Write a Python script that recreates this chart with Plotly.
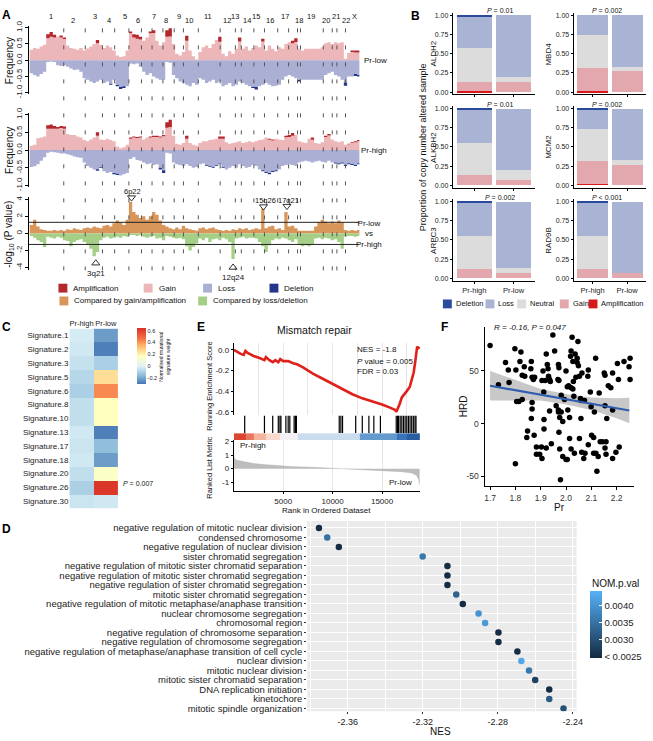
import plotly.graph_objects as go

W, H = 653, 741
FONT = "Liberation Sans, Arial, sans-serif"

# ---------------- Panel A data (genome bins, left to right) ----------------
chrom_labels = ["1", "2", "3", "4", "5", "6", "7", "8", "9", "10", "11", "12", "13", "14", "15",
                "16", "17", "18", "19", "20", "21", "22", "X"]
chrom_label_pos = [6.5, 13.2, 19.8, 24.0, 28.7, 32.7, 37.5, 41.3, 45.3, 48.3, 53.8, 59.7, 62.0,
                   65.8, 68.3, 72.6, 77.3, 81.3, 85.2, 89.5, 92.7, 95.7, 98.2]
chrom_dash_pos = [10.3, 16.8, 22.0, 25.7, 30.0, 33.8, 37.0, 40.3, 43.7, 46.5, 51.0, 57.6, 62.2,
                  64.0, 67.8, 71.0, 75.0, 78.3, 81.0, 81.9, 88.8, 91.5, 92.9, 95.5]

low_gain = [0.32, 0.38, 0.35, 0.42, 0.48, 0.68, 0.72, 0.70, 0.72, 0.70,
            0.65, 0.45, 0.38, 0.35, 0.32, 0.38, 0.30, 0.36, 0.42, 0.50,
            0.52, 0.48, 0.38, 0.45, 0.40, 0.30, 0.15, 0.10, 0.12, 0.30,
            0.83, 0.70, 0.66, 0.64, 0.60, 0.70, 0.83, 0.84, 0.60, 0.45,
            0.55, 0.72, 0.73, 0.50, 0.20, 0.15, 0.25, 0.60, 0.30, 0.12,
            0.02, 0.25, 0.40, 0.45, 0.38, 0.50, 0.62, 0.57, 0.20, 0.12,
            0.28, 0.20, 0.35, 0.58, 0.35, 0.42, 0.30, 0.38, 0.45, 0.40,
            0.58, 0.30, 0.45, 0.35, 0.28, 0.40, 0.35, 0.50, 0.55, 0.52,
            0.56, 0.35, 0.30, 0.35, 0.35, 0.35, 0.35, 0.35, 0.40, 0.52,
            0.55, 0.50, 0.55, 0.52, 0.55, 0.05, 0.22, 0.25, 0.24, 0.24]
low_amp = [0, 0, 0, 0, 0, 0.12, 0.15, 0.08, 0, 0.06,
           0.05, 0, 0, 0, 0, 0, 0, 0, 0, 0,
           0.10, 0, 0, 0, 0, 0, 0, 0, 0, 0,
           0.05, 0.10, 0.12, 0.08, 0, 0, 0.05, 0.08, 0, 0,
           0, 0.20, 0.25, 0, 0, 0, 0, 0.15, 0, 0,
           0, 0, 0, 0, 0, 0, 0, 0.15, 0, 0,
           0, 0, 0, 0.12, 0, 0, 0, 0, 0, 0,
           0.08, 0, 0, 0, 0, 0, 0, 0, 0, 0.08,
           0.12, 0, 0, 0, 0, 0, 0, 0, 0, 0,
           0, 0, 0, 0, 0, 0, 0, 0.05, 0.06, 0.06]
low_loss = [-0.40, -0.45, -0.50, -0.42, -0.35, -0.05, -0.04, -0.05, -0.15, -0.18,
            -0.15, -0.20, -0.25, -0.30, -0.28, -0.35, -0.55, -0.60, -0.65, -0.70,
            -0.65, -0.60, -0.70, -0.65, -0.72, -0.60, -0.76, -0.82, -0.80, -0.80,
            -0.10, -0.12, -0.10, -0.20, -0.35, -0.45, -0.40, -0.50, -0.55, -0.60,
            -0.60, -0.05, -0.08, -0.45, -0.55, -0.65, -0.70, -0.75, -0.80, -0.70,
            -0.75, -0.55, -0.60, -0.70, -0.65, -0.60, -0.70, -0.65, -0.80, -0.75,
            -0.70, -0.80, -0.75, -0.65, -0.70, -0.75, -0.80, -0.81, -0.82, -0.80,
            -0.75, -0.70, -0.75, -0.80, -0.78, -0.75, -0.60, -0.50, -0.45, -0.50,
            -0.55, -0.61, -0.60, -0.60, -0.60, -0.60, -0.60, -0.60, -0.60, -0.45,
            -0.40, -0.35, -0.45, -0.50, -0.60, -0.68, -0.50, -0.50, -0.42, -0.45]
low_del = [0, 0, 0, 0, 0, 0, 0, 0, 0, 0,
           0, 0, 0, 0, 0, 0, 0, 0, 0, 0,
           0, 0, 0, 0, -0.03, 0, -0.04, -0.06, -0.05, 0,
           0, 0, 0, 0, 0, 0, 0, 0, 0, 0,
           0, 0, 0, 0, 0, 0, 0, 0, 0, 0,
           0, 0, 0, 0, 0, 0, 0, 0, 0, 0,
           0, 0, 0, 0, 0, 0, 0, -0.04, -0.08, 0,
           0, 0, 0, 0, 0, 0, 0, 0, 0, 0,
           0, -0.04, 0, 0, 0, 0, 0, 0, 0, 0,
           0, 0, 0, 0, 0, -0.10, 0, 0, -0.06, -0.05]

high_gain = [0.12, 0.15, 0.33, 0.35, 0.38, 0.60, 0.60, 0.60, 0.60, 0.62,
             0.60, 0.45, 0.42, 0.42, 0.38, 0.35, 0.28, 0.25, 0.30, 0.35,
             0.40, 0.30, 0.28, 0.32, 0.28, 0.25, 0.10, 0.05, 0.08, 0.15,
             0.32, 0.35, 0.34, 0.35, 0.30, 0.35, 0.35, 0.37, 0.37, 0.35,
             0.39, 0.63, 0.65, 0.40, 0.18, 0.15, 0.20, 0.32, 0.20, 0.15,
             0.12, 0.20, 0.25, 0.25, 0.28, 0.30, 0.32, 0.32, 0.32, 0.22,
             0.18, 0.20, 0.22, 0.25, 0.20, 0.22, 0.25, 0.22, 0.25, 0.28,
             0.30, 0.35, 0.29, 0.27, 0.32, 0.30, 0.28, 0.36, 0.37, 0.40,
             0.42, 0.25, 0.22, 0.20, 0.32, 0.29, 0.20, 0.18, 0.22, 0.37,
             0.41, 0.30, 0.25, 0.22, 0.25, 0.15, 0.16, 0.20, 0.22, 0.25]
high_amp = [0, 0, 0, 0, 0, 0.10, 0.12, 0.08, 0.05, 0.06,
            0.06, 0, 0, 0, 0, 0, 0, 0, 0, 0,
            0.10, 0, 0, 0, 0, 0, 0, 0, 0, 0,
            0.03, 0.03, 0.03, 0.03, 0, 0, 0.03, 0.03, 0.03, 0.03,
            0.03, 0.15, 0.20, 0, 0, 0, 0, 0.08, 0, 0,
            0, 0, 0, 0, 0, 0, 0, 0.06, 0.06, 0,
            0, 0, 0, 0, 0, 0, 0, 0, 0, 0,
            0, 0, 0.03, 0.03, 0, 0, 0, 0.04, 0.05, 0.08,
            0, 0, 0, 0, 0, 0.06, 0, 0, 0, 0.03,
            0.04, 0, 0, 0, 0, 0, 0.02, 0.02, 0.03, 0.03]
high_loss = [-0.48, -0.46, -0.40, -0.30, -0.20, -0.08, -0.05, -0.06, -0.08, -0.10,
             -0.10, -0.12, -0.15, -0.18, -0.20, -0.22, -0.35, -0.45, -0.50, -0.55,
             -0.54, -0.48, -0.60, -0.65, -0.62, -0.65, -0.67, -0.72, -0.68, -0.65,
             -0.25, -0.20, -0.28, -0.30, -0.35, -0.40, -0.38, -0.42, -0.40, -0.50,
             -0.57, -0.08, -0.10, -0.35, -0.40, -0.42, -0.45, -0.40, -0.45, -0.50,
             -0.48, -0.40, -0.38, -0.43, -0.46, -0.48, -0.43, -0.38, -0.48, -0.55,
             -0.50, -0.45, -0.50, -0.40, -0.45, -0.50, -0.48, -0.42, -0.45, -0.55,
             -0.57, -0.62, -0.65, -0.59, -0.57, -0.55, -0.45, -0.42, -0.40, -0.42,
             -0.45, -0.35, -0.32, -0.30, -0.32, -0.35, -0.32, -0.30, -0.33, -0.35,
             -0.30, -0.35, -0.35, -0.37, -0.35, -0.42, -0.37, -0.39, -0.42, -0.37]
high_del = [0, 0, 0, 0, 0, 0, 0, 0, 0, 0,
            0, 0, 0, 0, 0, 0, 0, 0, 0, 0,
            -0.04, -0.02, 0, 0, 0, -0.03, -0.03, 0, 0, 0,
            0, 0, 0, 0, 0, 0, 0, 0, 0, -0.05,
            -0.08, 0, 0, 0, 0, 0, 0, 0, 0, 0,
            0, 0, 0, -0.02, -0.02, -0.02, -0.02, -0.02, -0.02, 0,
            0, 0, 0, 0, 0, 0, 0, 0, 0, 0,
            -0.03, -0.03, -0.03, -0.03, -0.03, 0, 0, 0, 0, 0,
            0, 0, 0, 0, 0, 0, 0, 0, 0, 0,
            0, 0, -0.03, -0.03, -0.03, -0.03, -0.03, -0.03, -0.03, -0.03]

p_gain = [1.0, 1.6, 0.8, 0.5, 0.4, 0.3, 0.3, 0.4, 0.3, 0.4,
          0.3, 0.5, 0.4, 0.6, 0.5, 0.4, 0.6, 0.7, 0.6, 0.8,
          0.7, 0.6, 0.9, 1.0, 0.8, 1.2, 1.5, 1.3, 1.0, 1.6,
          3.7, 2.5, 2.2, 1.8, 2.0, 1.6, 2.0, 2.5, 2.2, 1.5,
          1.0, 0.8, 0.6, 0.5, 0.7, 0.5, 0.9, 0.6, 0.5, 0.4,
          0.3, 0.6, 0.7, 0.5, 0.6, 0.7, 0.5, 0.4, 0.3, 0.4,
          0.3, 0.5, 0.4, 0.6, 0.5, 0.6, 0.4, 0.5, 0.6, 0.5,
          2.9, 0.6, 0.8, 0.9, 0.5, 0.6, 0.4, 2.5, 0.8, 0.9,
          0.6, 0.3, 0.3, 0.3, 0.3, 0.3, 0.8, 1.3, 1.6, 1.4,
          1.2, 1.4, 1.2, 1.5, 1.3, 0.4, 0.3, 0.4, 0.3, 0.4]
p_loss = [-0.3, -0.5, -0.8, -1.0, -1.6, -0.4, -0.5, -0.6, -0.4, -0.5,
          -0.8, -0.9, -1.5, -1.0, -0.8, -0.7, -1.0, -1.3, -1.8, -2.7,
          -2.2, -0.8, -0.5, -0.4, -0.6, -0.5, -0.4, -0.5, -0.3, -0.4,
          -0.2, -0.2, -0.3, -0.2, -0.4, -0.5, -0.4, -0.3, -0.6, -0.5,
          -0.8, -0.3, -0.4, -0.5, -0.6, -0.5, -0.7, -1.5, -2.0, -1.6,
          -1.2, -0.6, -0.8, -0.5, -1.0, -0.7, -0.6, -0.8, -0.5, -0.7,
          -1.0, -3.0, -0.6, -0.5, -0.4, -0.6, -0.5, -0.5, -0.6, -1.0,
          -1.5, -2.2, -1.4, -0.8, -0.6, -0.7, -0.5, -0.6, -0.8, -1.0,
          -0.7, -1.3, -1.5, -1.4, -1.5, -1.3, -0.6, -0.5, -0.7, -0.5,
          -0.6, -0.8, -0.7, -1.0, -1.8, -0.4, -0.3, -0.3, -0.4, -0.3]
p_threshold = 1.3
peak_names = ["6p22", "15q26", "17q21"]
peak_pos = [30.8, 70.7, 77.8]
peak_val = [4.2, 3.15, 3.2]
trough_names = ["3q21", "12q24"]
trough_pos = [20.0, 61.5]
trough_val = [-3.5, -4.0]

# ---------------- Panel B data ----------------
genes = ["ALDH2", "MBD4", "ALKBH2", "MCM2", "ARPC3", "RAD9B"]
gene_p = ["<i>P</i> = 0.01", "<i>P</i> = 0.002", "<i>P</i> = 0.01", "<i>P</i> = 0.002",
          "<i>P</i> = 0.002", "<i>P</i> < 0.001"]
groups_b = ["Pr-high", "Pr-low"]
amp_high = [0.015, 0.015, 0.0, 0.015, 0.0, 0.0]
gain_high = [0.115, 0.295, 0.13, 0.295, 0.12, 0.12]
neutral_high = [0.44, 0.43, 0.42, 0.43, 0.43, 0.43]
loss_high = [0.415, 0.26, 0.435, 0.24, 0.435, 0.435]
del_high = [0.015, 0.0, 0.015, 0.02, 0.015, 0.015]
amp_low = [0.0, 0.0, 0.0, 0.0, 0.0, 0.0]
gain_low = [0.13, 0.27, 0.07, 0.26, 0.07, 0.07]
neutral_low = [0.06, 0.06, 0.13, 0.07, 0.06, 0.0]
loss_low = [0.81, 0.67, 0.80, 0.67, 0.87, 0.93]
del_low = [0.0, 0.0, 0.0, 0.0, 0.0, 0.0]

# ---------------- Panel C data ----------------
signatures = ["Signature.1", "Signature.2", "Signature.3", "Signature.5", "Signature.6",
              "Signature.8", "Signature.10", "Signature.13", "Signature.17", "Signature.18",
              "Signature.20", "Signature.26", "Signature.30"]
sig_groups = ["Pr-high", "Pr-low"]
sig_high = [-0.02, -0.03, -0.05, -0.08, -0.10, -0.06, -0.06, -0.03, -0.04, -0.03, -0.06, -0.10, -0.04]
sig_low = [-0.22, -0.28, -0.10, 0.25, 0.42, 0.17, 0.17, -0.28, -0.15, -0.22, 0.15, 0.62, -0.03]

# ---------------- Panel E data ----------------
es_rank = [0, 300, 700, 1000, 1170, 1400, 2000, 2600, 3100, 3250, 3600, 3950, 4200, 4500, 4700,
           5000, 5500, 6000, 6400, 7000, 8000, 9000, 10000, 11000, 12000, 13000, 13700, 14200,
           15000, 15800, 16300, 16450, 16600, 16800, 17000, 17200, 17500, 17800, 18000, 18200,
           18350, 18450, 18550, 18800]
es_value = [0.0, -0.02, -0.04, -0.05, -0.01, -0.03, -0.06, -0.08, -0.10, -0.07, -0.10, -0.12,
            -0.10, -0.12, -0.09, -0.11, -0.11, -0.13, -0.14, -0.17, -0.23, -0.28, -0.33, -0.38,
            -0.43, -0.47, -0.49, -0.50, -0.53, -0.56, -0.58, -0.60, -0.57, -0.52, -0.46, -0.44,
            -0.40, -0.36, -0.30, -0.22, -0.12, -0.02, 0.03, 0.01]
hit_ranks = [1100, 3100, 3933, 4500, 4667, 4767, 5267, 5500, 5667, 6100, 6233, 6333, 10667, 10833,
             11000, 12333, 13000, 13667, 14167, 14833, 16433, 16567, 16667, 16833, 17000, 17167,
             17333, 17500, 17667, 17833, 18000, 18167, 18333, 18433]
band_edges = [0, 1170, 2000, 3200, 4700, 6500, 12700, 16500, 17500, 18800]
band_metric = [0.95, 0.7, 0.4, 0.2, 0.0, -0.15, -0.55, -0.75, -0.9]
metric_rank = [0, 50, 300, 1000, 2000, 3000, 4500, 6000, 8000, 10000, 12000, 14000, 16000,
               17000, 18000, 18500, 18700, 18800]
metric_value = [1.0, 0.75, 0.62, 0.5, 0.38, 0.3, 0.22, 0.15, 0.1, 0.04, -0.02, -0.08, -0.15,
                -0.22, -0.32, -0.5, -0.8, -1.2]

# ---------------- Panel F data ----------------
pr_vals = [1.70, 1.733, 1.761, 1.772, 1.775, 1.798, 1.802, 1.805, 1.814, 1.818, 1.822, 1.827,
           1.827, 1.837, 1.835, 1.80, 1.848, 1.845, 1.863, 1.861, 1.866, 1.871, 1.876, 1.866,
           1.866, 1.863, 1.874, 1.883, 1.883, 1.896, 1.903, 1.905, 1.909, 1.905, 1.912, 1.913,
           1.913, 1.918, 1.922, 1.926, 1.929, 1.931, 1.935, 1.935, 1.938, 1.942, 1.922, 1.948,
           1.955, 1.961, 1.968, 1.97, 1.972, 1.972, 1.97, 1.97, 1.975, 1.972, 1.975, 1.978,
           1.981, 1.987, 1.994, 2.0, 2.005, 2.007, 2.0, 2.005, 2.01, 2.014, 2.014, 2.018, 2.02,
           2.02, 2.02, 2.024, 2.027, 2.027, 2.029, 2.031, 2.033, 2.036, 2.039, 2.044, 2.044,
           2.047, 2.049, 2.053, 2.053, 2.057, 2.059, 2.059, 2.063, 2.062, 2.066, 2.07, 2.073,
           2.075, 2.086, 2.088, 2.088, 2.096, 2.099, 2.101, 2.109, 2.109, 2.112, 2.117, 2.118,
           2.122, 2.127, 2.131, 2.135, 2.144, 2.151, 2.154, 2.154, 2.154, 2.158, 2.158, 2.161,
           2.167, 2.177, 2.184, 2.184, 2.184, 2.197, 2.203, 2.207, 2.21, 2.229, 2.249, 2.253,
           2.253, 1.981, 1.987]
hrd_vals = [74, 37, 58, 51, 39, 71, 51, 21, 21, 59, 68, 46,
            23, 45, 54, -38, -7, -13, 59, 52, 44, 42, 44, 20,
            14, 5, -11, -22, -29, -29, -22, -33, 50, 41, 30, 4,
            -5, 41, 66, 56, 52, 45, 42, 12, 40, -19, -23, 84,
            69, 17, 42, 56, 53, 41, 13, 11, 6, -8, -24, -53,
            27, 2, 23, 50, 35, 13, -34, -34, 36, 6, -14, 64, 69,
            34, -24, 82, 59, 33, 40, 26, -28, 66, 44, 62, 58,
            78, 55, 45, -14, 24, 22, 5, 48, -27, 22, -33, 22,
            -28, 45, 51, -20, 30, 16, -11, -13, -28, 11, 62, -28,
            -45, -31, 29, -17, -17, 48, 46, 17, -23, -17, -29, 5,
            36, 34, 13, 48, -33, -27, 57, 42, -22, 59, 54, 62,
            42, 11, -31]
fit_pr = [1.70, 1.80, 1.90, 2.00, 2.10, 2.20, 2.25]
fit_hrd = [36.0, 31.7, 27.5, 23.2, 18.9, 14.6, 12.5]
fit_lower = [22.0, 21.7, 22.0, 18.2, 12.9, 5.1, 0.5]
fit_upper = [50.0, 41.7, 33.0, 28.2, 24.9, 24.1, 24.5]

# ---------------- Panel D data ----------------
go_terms = ["negative regulation of mitotic nuclear division", "condensed chromosome",
            "negative regulation of nuclear division", "sister chromatid segregation",
            "negative regulation of mitotic sister chromatid separation",
            "negative regulation of mitotic sister chromatid segregation",
            "negative regulation of sister chromatid segregation",
            "mitotic sister chromatid segregation",
            "negative regulation of mitotic metaphase/anaphase transition",
            "nuclear chromosome segregation", "chromosomal region",
            "negative regulation of chromosome separation",
            "negative regulation of chromosome segregation",
            "negative regulation of metaphase/anaphase transition of cell cycle",
            "nuclear division", "mitotic nuclear division", "mitotic sister chromatid separation",
            "DNA replication initiation", "kinetochore", "mitotic spindle organization"]
go_nes = [-2.3753, -2.3709, -2.3647, -2.3200, -2.3068, -2.3068, -2.3068, -2.3021, -2.2986,
          -2.2902, -2.2867, -2.2796, -2.2796, -2.2695, -2.2674, -2.2633, -2.2600, -2.2525,
          -2.2525, -2.2449]
go_pval = [0.0025, 0.0035, 0.0025, 0.0036, 0.0025, 0.0025, 0.0025, 0.0033, 0.0025, 0.0040,
           0.0041, 0.0025, 0.0025, 0.0025, 0.0043, 0.0036, 0.0028, 0.0025, 0.0032, 0.0030]

# ---------------- colours ----------------
C_GAIN, C_AMP, C_LOSS, C_DEL = "#EDB6B9", "#B4272D", "#AAAFD3", "#23368A"
C_PG, C_PL = "#D9965B", "#A5CF86"
B_DEL, B_LOSS, B_NEU, B_GAIN, B_AMP = "#2A4B9B", "#A9B3D3", "#DCDCDC", "#E2A8AD", "#D7191C"


def xd(a, b):
    return [a / W, b / W]


def yd(t, b):
    return [1 - b / H, 1 - t / H]


def ann(text, x, y, size=9, xanchor="center", yanchor="middle", angle=0, color="#111",
        xref="paper", yref="paper", **kw):
    return dict(text=text, x=(x / W if xref == "paper" else x), y=(1 - y / H if yref == "paper" else y),
                xref=xref, yref=yref, showarrow=False, xanchor=xanchor, yanchor=yanchor,
                textangle=angle, font=dict(size=size, color=color, family=FONT), **kw)


fig = go.Figure()
axes = {}
annotations = []
shapes = []


def ax_names(n):
    return ("x" if n == 1 else f"x{n}", "y" if n == 1 else f"y{n}")


def set_axes(n, xdom, ydom, xkw, ykw):
    xn, yn = ax_names(n)
    base = dict(showgrid=False, zeroline=False)
    xa = dict(base, domain=xdom, anchor=yn)
    ya = dict(base, domain=ydom, anchor=xn)
    xa.update(xkw)
    ya.update(ykw)
    axes["xaxis" if n == 1 else f"xaxis{n}"] = xa
    axes["yaxis" if n == 1 else f"yaxis{n}"] = ya
    return xn, yn


# ================= Panel A =================
genome_bins = list(range(len(low_gain)))
x_step = genome_bins + [len(genome_bins)]


def ext(v):
    return list(v) + [v[-1]]


yA = dict(tickvals=[-1, -0.5, 0, 0.5, 1], ticktext=["-1.0", "-0.5", "0.0", "0.5", "1.0"],
          tickangle=-90, showline=True, linecolor="black", linewidth=1, ticks="outside",
          ticklen=3, tickcolor="black", tickfont=dict(size=8, color="#222"))
xA = dict(range=[-0.2, 99.7], visible=False)

for n, (top, bot), series in [
    (1, (20.35, 89.65), (low_gain, low_amp, low_loss, low_del)),
    (2, (108.2, 183.8), (high_gain, high_amp, high_loss, high_del)),
]:
    xn, yn = set_axes(n, xd(29.3, 362.7), yd(top, bot), xA, dict(yA, range=[-1.05, 1.05]))
    g, a, l, d = series
    for vals, col, grp in [(g, C_GAIN, f"pos{n}"), (a, C_AMP, f"pos{n}"),
                           (l, C_LOSS, f"neg{n}"), (d, C_DEL, f"neg{n}")]:
        fig.add_trace(go.Scatter(x=x_step, y=ext(vals), mode="lines", stackgroup=grp,
                                 line=dict(width=0, shape="hv"), fillcolor=col,
                                 xaxis=xn, yaxis=yn, hoverinfo="skip"))

xn3, yn3 = set_axes(3, xd(29.3, 362.7), yd(193.4, 267.6), xA,
                    dict(yA, range=[-4.3, 4.3], tickvals=[-4, -2, 0, 2, 4],
                         ticktext=["-4", "-2", "0", "2", "4"]))
fig.add_trace(go.Scatter(x=x_step, y=ext(p_gain), mode="lines", fill="tozeroy",
                         line=dict(width=0, shape="hv"), fillcolor=C_PG, xaxis=xn3, yaxis=yn3))
fig.add_trace(go.Scatter(x=x_step, y=ext(p_loss), mode="lines", fill="tozeroy",
                         line=dict(width=0, shape="hv"), fillcolor=C_PL, xaxis=xn3, yaxis=yn3))
fig.add_trace(go.Scatter(x=peak_pos, y=peak_val, mode="markers", cliponaxis=False,
                         marker=dict(symbol="triangle-down-open", size=7, color="#333",
                                     line=dict(width=1)), xaxis=xn3, yaxis=yn3))
fig.add_trace(go.Scatter(x=trough_pos, y=trough_val, mode="markers", cliponaxis=False,
                         marker=dict(symbol="triangle-up-open", size=7, color="#333",
                                     line=dict(width=1)), xaxis=xn3, yaxis=yn3))
for thr in (p_threshold, -p_threshold):
    shapes.append(dict(type="line", xref="x3 domain", x0=0, x1=1, yref=yn3, y0=thr, y1=thr,
                       line=dict(color="#222", width=1)))
for xp in chrom_dash_pos:
    shapes.append(dict(type="line", xref="x", x0=xp, x1=xp, yref="paper", y0=1 - 268 / H,
                       y1=1 - 17 / H, line=dict(color="#555", width=1, dash="4px,13px")))
for i, (lab, xp) in enumerate(zip(chrom_labels, chrom_label_pos)):
    ypx = 11 if (i % 2 == 0 or lab == "X") else 15
    annotations.append(ann(lab, xp, ypx, size=7.5, xref="x"))
peak_label_y = [188, 197, 197]
for lab, xp, ypx in zip(peak_names, [31.1, 71.2, 78.2], peak_label_y):
    annotations.append(ann(lab, xp, ypx, size=7.5, xref="x"))
for lab, xp, ypx in zip(trough_names, [20.0, 61.5], [271, 275]):
    annotations.append(ann(lab, xp, ypx, size=8, xref="x"))
annotations += [
    ann("Frequency", 9, 55, size=10, angle=-90),
    ann("Frequency", 9, 146, size=10, angle=-90),
    ann("-log<sub>10</sub> (P value)", 9, 231, size=10, angle=-90),
    ann("Pr-low", 379, 55, size=8),
    ann("Pr-high", 377, 146, size=8),
    ann("Pr-low<br>vs<br>Pr-high", 372, 231, size=8),
]
# legend of panel A
legA = [("Amplification", C_AMP, 59, 286), ("Gain", C_GAIN, 145, 286),
        ("Loss", C_LOSS, 205, 286), ("Deletion", C_DEL, 272, 286),
        ("Compared by gain/amplification", C_PG, 60, 299), ("Compared by loss/deletion", C_PL, 200, 299)]
for lab, col, x0, yc in legA:
    shapes.append(dict(type="rect", xref="paper", yref="paper", x0=x0 / W, x1=(x0 + 9) / W,
                       y0=1 - (yc + 4.5) / H, y1=1 - (yc - 4.5) / H, fillcolor=col, line=dict(width=0)))
    annotations.append(ann(lab, x0 + 13, yc, size=8, xanchor="left"))

# ================= Panel B =================
col_x = [xd(457, 540), xd(579, 652)]
row_y = [(7.0, 89.6), (101.7, 184.0), (196.0, 278.3)]
for gi, gene in enumerate(genes):
    r, c = gi // 2, gi % 2
    n = 4 + gi
    xn, yn = set_axes(n, col_x[c], yd(*row_y[r]),
                      dict(type="category", range=[-0.55, 1.55], showline=True, linecolor="black",
                           ticks="outside", ticklen=2, tickcolor="black",
                           showticklabels=(r == 2), tickfont=dict(size=7.5, color="#222")),
                      dict(range=[-0.03, 1.03], tickvals=[0, 0.25, 0.5, 0.75, 1],
                           ticktext=["0.00", "0.25", "0.50", "0.75", "1.00"], showline=True,
                           linecolor="black", ticks="outside", ticklen=2, tickcolor="black",
                           tickfont=dict(size=7, color="#222")))
    for vh, vl, colr in [(amp_high, amp_low, B_AMP), (gain_high, gain_low, B_GAIN),
                         (neutral_high, neutral_low, B_NEU), (loss_high, loss_low, B_LOSS),
                         (del_high, del_low, B_DEL)]:
        fig.add_trace(go.Bar(x=groups_b, y=[vh[gi], vl[gi]], marker=dict(color=colr, line=dict(width=0)),
                             width=0.9, xaxis=xn, yaxis=yn))
    xc = 505 if c == 0 else 613
    annotations.append(ann(gene_p[gi], xc, row_y[r][0] - 2, size=7))
    annotations.append(ann(gene, 438 if c == 0 else 554, (row_y[r][0] + row_y[r][1]) / 2,
                           size=8, angle=-90))
annotations.append(ann("Proportion of copy number altered sample", 427, 143, size=9, angle=-90))
legB = [("Deletion", B_DEL, 447), ("Loss", B_LOSS, 490), ("Neutral", B_NEU, 522),
        ("Gain", B_GAIN, 565), ("Amplification", B_AMP, 594)]
for lab, col, x0 in legB:
    shapes.append(dict(type="rect", xref="paper", yref="paper", x0=x0 / W, x1=(x0 + 9) / W,
                       y0=1 - 306.5 / H, y1=1 - 297.5 / H, fillcolor=col, line=dict(width=0)))
    annotations.append(ann(lab, x0 + 11, 302, size=7.5, xanchor="left"))

# ================= Panel C =================
xn, yn = set_axes(10, xd(70, 119), yd(327, 509),
                  dict(type="category", side="top", ticks="", tickangle=0,
                       tickfont=dict(size=7.5, color="#222")),
                  dict(type="category", autorange="reversed", ticks="",
                       tickfont=dict(size=8, color="#222")))
z_sig = [[h, l] for h, l in zip(sig_high, sig_low)]
fig.add_trace(go.Heatmap(
    z=z_sig, x=sig_groups, y=signatures, zmin=-0.3, zmax=0.64, xaxis=xn, yaxis=yn,
    colorscale=[[0, "#4575B4"], [0.16, "#91BFDB"], [0.32, "#E0F3F8"], [0.5, "#FFFFBF"],
                [0.7, "#FDAE61"], [0.82, "#F46D43"], [1, "#D73027"]],
    colorbar=dict(x=138 / W, xanchor="left", y=1 - 355 / H, yanchor="middle", len=56,
                  lenmode="pixels", thickness=9, thicknessmode="pixels", ypad=0, xpad=0,
                  tickvals=[-0.2, 0, 0.2, 0.4, 0.6], ticktext=["-0.2", "0", "0.2", "0.4", "0.6"],
                  tickfont=dict(size=5.5, color="#222"), ticks="", outlinewidth=0)))
annotations.append(ann("<i>P</i> = 0.007", 122, 484, size=7, xanchor="left"))
annotations.append(ann("Normalised mutational<br>signature weight", 166, 355, size=5, angle=-90))

# ================= Panel E =================
xE = dict(range=[0, 18850], tick0=0, dtick=2500, showgrid=True, gridcolor="#E6E6E6",
          showticklabels=False, ticks="")
xn, yn = set_axes(11, xd(236, 424), yd(341.7, 415), xE,
                  dict(range=[-0.635, 0.065], tickvals=[-0.6, -0.4, -0.2, 0],
                       ticktext=["-0.6", "-0.4", "-0.2", "0.0"], showline=True, linecolor="black",
                       ticks="outside", ticklen=2, tickcolor="black", tickfont=dict(size=8, color="#222")))
fig.add_trace(go.Scatter(x=es_rank, y=es_value, mode="lines", line=dict(color="#E0201B", width=2.6),
                         xaxis=xn, yaxis=yn))
xn, yn = set_axes(12, xd(236, 424), yd(415, 433), dict(range=[0, 18850], visible=False),
                  dict(range=[0, 1], visible=False))
hx, hy = [], []
for r in hit_ranks:
    hx += [r, r, None]
    hy += [0, 1, None]
fig.add_trace(go.Scatter(x=hx, y=hy, mode="lines", line=dict(color="black", width=1.2),
                         xaxis=xn, yaxis=yn))
xn, yn = set_axes(13, xd(236, 424), yd(433, 440), dict(range=[0, 18850], visible=False),
                  dict(range=[0, 1], visible=False))
fig.add_trace(go.Heatmap(x=band_edges, y=[0, 1], z=[band_metric], zmin=-1, zmax=1, showscale=False,
                         colorscale=[[0, "#1F4E93"], [0.15, "#3A7BBF"], [0.3, "#8FB9DC"],
                                     [0.42, "#C6DCEE"], [0.5, "#F2F0F4"], [0.6, "#F9D9CC"],
                                     [0.75, "#F2A184"], [1, "#D73A27"]],
                         xaxis=xn, yaxis=yn))
xn, yn = set_axes(14, xd(236, 424), yd(440, 491.7),
                  dict(xE, showticklabels=True, tickvals=[5000, 10000, 15000],
                       ticktext=["5000", "10000", "15000"], showline=True, linecolor="black",
                       ticks="outside", ticklen=2, tickcolor="black", tickfont=dict(size=8, color="#222")),
                  dict(range=[-1.66, 2.12], tickvals=[-1, 0, 1, 2], ticktext=["-1", "0", "1", "2"],
                       showline=True, linecolor="black", ticks="outside", ticklen=2, tickcolor="black",
                       tickfont=dict(size=8, color="#222")))
fig.add_trace(go.Scatter(x=metric_rank, y=metric_value, mode="lines", fill="tozeroy",
                         line=dict(color="#B5B5B5", width=0.5), fillcolor="#BDBDBD",
                         xaxis=xn, yaxis=yn))
annotations += [
    ann("Mismatch repair", 317, 328, size=10.5),
    ann("NES = -1.8", 358, 348, size=8, xanchor="left"),
    ann("<i>P</i> value = 0.005", 358, 360, size=8, xanchor="left"),
    ann("FDR = 0.03", 358, 371, size=8, xanchor="left"),
    ann("Running Enrichment Score", 212, 385, size=7.5, angle=-90),
    ann("Ranked List Metric", 212, 468, size=7.5, angle=-90),
    ann("Pr-high", 240, 446, size=8, xanchor="left"),
    ann("Pr-low", 418, 483, size=8, xanchor="right"),
    ann("Rank in Ordered Dataset", 330, 511, size=8),
]

# ================= Panel F =================
xn, yn = set_axes(15, xd(489, 640), yd(325, 487),
                  dict(range=[1.678, 2.269], tickvals=[1.7, 1.8, 1.9, 2.0, 2.1, 2.2],
                       ticktext=["1.7", "1.8", "1.9", "2.0", "2.1", "2.2"], showline=True,
                       linecolor="black", ticks="outside", ticklen=3, tickcolor="black",
                       tickfont=dict(size=8.5, color="#333")),
                  dict(range=[-59.4, 92], tickvals=[-50, 0, 50], ticktext=["-50", "0", "50"],
                       showline=True, linecolor="black", ticks="outside", ticklen=3,
                       tickcolor="black", tickfont=dict(size=8.5, color="#333")))
fig.add_trace(go.Scatter(x=fit_pr + fit_pr[::-1], y=fit_upper + fit_lower[::-1], mode="lines",
                         fill="toself", fillcolor="rgba(170,170,170,0.65)", line=dict(width=0),
                         xaxis=xn, yaxis=yn))
fig.add_trace(go.Scatter(x=pr_vals, y=hrd_vals, mode="markers",
                         marker=dict(color="black", size=5.5), xaxis=xn, yaxis=yn))
fig.add_trace(go.Scatter(x=fit_pr, y=fit_hrd, mode="lines", line=dict(color="#2F5EAE", width=2.2),
                         xaxis=xn, yaxis=yn))
annotations += [
    ann("<i>R = -0.16, P = 0.047</i>", 497, 326, size=8, xanchor="left"),
    ann("HRD", 468, 406, size=10, angle=-90),
    ann("Pr", 565, 508, size=10),
]

# ================= Panel D =================
xn, yn = set_axes(16, xd(310, 582), yd(522, 715),
                  dict(range=[-2.3816, -2.2379], tickvals=[-2.36, -2.32, -2.28, -2.24],
                       ticktext=["-2.36", "-2.32", "-2.28", "-2.24"], showgrid=True,
                       gridcolor="white", gridwidth=1.1, ticks="outside", ticklen=2,
                       tickcolor="#333", tickfont=dict(size=9, color="#222"),
                       minor=dict(tickvals=[-2.38, -2.34, -2.30, -2.26], showgrid=True,
                                  gridcolor="white", gridwidth=0.5)),
                  dict(type="category", range=[19.31, -0.73], showgrid=True, gridcolor="white",
                       gridwidth=1.1, ticks="outside", ticklen=2, tickcolor="#333",
                       tickmode="array", tickvals=go_terms, ticktext=go_terms,
                       tickfont=dict(size=9.5, color="#222")))
shapes.append(dict(type="rect", xref="x16 domain", yref="y16 domain", x0=0, x1=1, y0=0, y1=1,
                   fillcolor="#EBEBEB", line=dict(width=0), layer="below"))
fig.add_trace(go.Scatter(
    x=go_nes, y=go_terms, mode="markers", xaxis=xn, yaxis=yn,
    marker=dict(size=6.5, color=go_pval, cmin=0.00248, cmax=0.00444,
                colorscale=[[0, "#132B43"], [1, "#56B1F7"]],
                colorbar=dict(x=595 / W, xanchor="left", y=1 - 626.5 / H, yanchor="middle",
                              len=67, lenmode="pixels", thickness=12, thicknessmode="pixels",
                              ypad=0, xpad=0, tickvals=[0.0025, 0.003, 0.0035, 0.004],
                              ticktext=["< 0.0025", "0.0030", "0.0035", "0.0040"],
                              ticks="inside", tickcolor="white", ticklen=3,
                              tickfont=dict(size=9.5, color="#222"), outlinewidth=0))))
annotations += [
    ann("NES", 445, 735, size=10),
    ann("NOM.p.val", 595, 585, size=10, xanchor="left"),
]

# panel letters
for lab, x0, y0 in [("A", 0, 0), ("B", 413, 1), ("C", 0, 316), ("E", 197, 316), ("F", 443, 316),
                    ("D", 0, 521)]:
    annotations.append(ann(f"<b>{lab}</b>", x0, y0, size=12, xanchor="left", yanchor="top",
                           color="#000"))

fig.update_layout(width=W, height=H, margin=dict(l=0, r=0, t=0, b=0), showlegend=False,
                  paper_bgcolor="white", plot_bgcolor="white", barmode="stack",
                  font=dict(family=FONT, color="#222"), annotations=annotations, shapes=shapes,
                  **axes)
fig.write_html("out.html", config={"displayModeBar": False},
               post_script="document.body.style.margin='0';document.body.style.padding='0';")
